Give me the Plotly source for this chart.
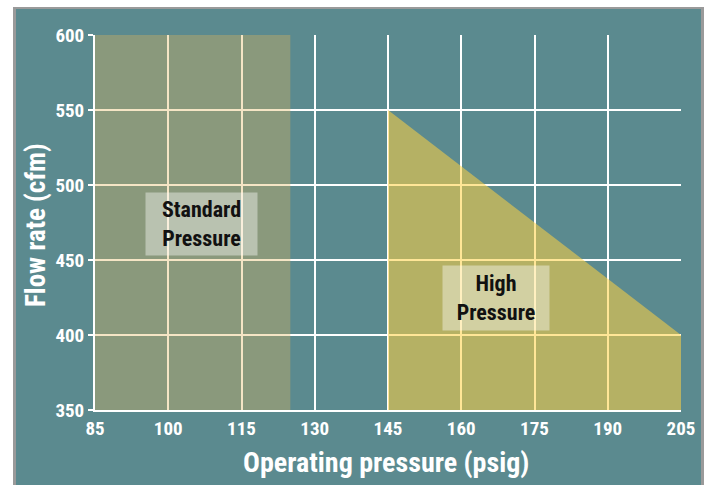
import plotly.graph_objects as go

# Data
x_ticks = [85, 100, 115, 130, 145, 160, 175, 190, 205]
y_ticks = [350, 400, 450, 500, 550, 600]
std_x = [85, 125, 125, 85]
std_y = [350, 350, 600, 600]
high_x = [145, 145, 205, 205]
high_y = [350, 550, 400, 350]
std_label = "Standard<br>Pressure"
high_label = "High<br>Pressure"
std_label_pos = (106.8, 474)
high_label_pos = (167.1, 424.7)

TEAL = "#5b8a8f"
FONT = "Liberation Sans Narrow, Arial Narrow, Roboto Condensed, Liberation Sans, sans-serif"

fig = go.Figure()
fig.add_trace(go.Scatter(x=std_x, y=std_y, fill="toself", mode="lines",
                         line=dict(width=0), fillcolor="rgba(226,181,88,0.35)",
                         hoverinfo="skip", showlegend=False))
fig.add_trace(go.Scatter(x=high_x, y=high_y, fill="toself", mode="lines",
                         line=dict(width=0), fillcolor="rgba(255,210,66,0.55)",
                         hoverinfo="skip", showlegend=False))

L, R, T, B = 95, 29, 35, 75
W, H = 710, 485
pw, ph = W - L - R, H - T - B

def px(x):
    return (x - L) / pw

def py(y):
    return (H - B - y) / ph

shapes = [
    dict(type="rect", xref="paper", yref="paper", x0=px(13), x1=px(704), y0=py(495), y1=py(7),
         fillcolor="#9a9a9a", line=dict(width=0), layer="below"),
    dict(type="rect", xref="paper", yref="paper", x0=px(16), x1=px(701), y0=py(495), y1=py(9),
         fillcolor=TEAL, line=dict(width=0), layer="below"),
]

annotations = [
    dict(x=std_label_pos[0], y=std_label_pos[1], xref="x", yref="y", text=std_label,
         showarrow=False, font=dict(family=FONT, size=22, color="#111111", weight="bold"),
         bgcolor="rgba(255,255,255,0.4)", width=107, height=58, borderpad=2,
         xanchor="center", yanchor="middle"),
    dict(x=high_label_pos[0], y=high_label_pos[1], xref="x", yref="y", text=high_label,
         showarrow=False, font=dict(family=FONT, size=22, color="#111111", weight="bold"),
         bgcolor="rgba(255,255,255,0.4)", width=102, height=60, borderpad=2,
         xanchor="center", yanchor="middle"),
    dict(x=px(386), y=py(462), xref="paper", yref="paper", text="Operating pressure (psig)",
         showarrow=False, xanchor="center", yanchor="middle",
         font=dict(family=FONT, size=28, color="white", weight="bold")),
    dict(x=px(36), y=py(225), xref="paper", yref="paper", text="Flow rate (cfm)",
         showarrow=False, textangle=-90, xanchor="center", yanchor="middle",
         font=dict(family=FONT, size=27, color="white", weight="bold")),
]

fig.update_layout(
    width=W, height=H,
    margin=dict(l=L, r=R, t=T, b=B),
    paper_bgcolor="white",
    plot_bgcolor=TEAL,
    shapes=shapes,
    annotations=annotations,
    showlegend=False,
)
fig.update_xaxes(range=[85, 205], tickvals=x_ticks, ticktext=[str(v) for v in x_ticks],
                 showgrid=True, gridcolor="white", gridwidth=2,
                 showline=True, linecolor="white", linewidth=2, layer="below traces",
                 zeroline=False, ticks="", ticklen=0,
                 tickfont=dict(family=FONT, size=19, color="white", weight="bold"))
fig.update_yaxes(range=[350, 600], tickvals=y_ticks, ticktext=[str(v) for v in y_ticks],
                 showgrid=True, gridcolor="white", gridwidth=2,
                 showline=True, linecolor="white", linewidth=2, layer="below traces",
                 zeroline=False, ticks="outside", ticklen=5, tickwidth=2, tickcolor="white",
                 tickfont=dict(family=FONT, size=19, color="white", weight="bold"))

fig.write_html("out.html", config={"displayModeBar": False},
               post_script="document.body.style.margin='0';")
